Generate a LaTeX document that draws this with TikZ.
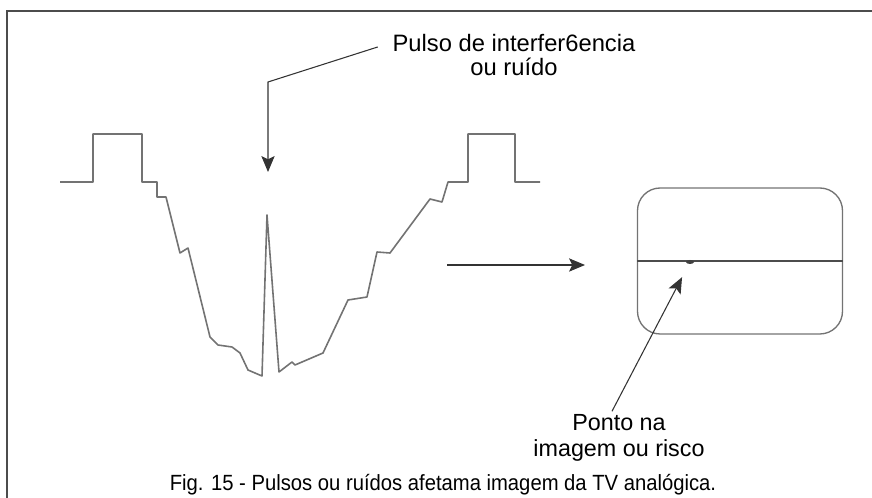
\documentclass[tikz,border=0pt]{standalone}
\usepackage{fontspec}
\setmainfont{Liberation Sans}
\newfontfamily\narrowsf[FakeStretch=0.92]{Liberation Sans}
\usetikzlibrary{arrows.meta,shapes.geometric}

\begin{document}
\begin{tikzpicture}[x=0.75pt,y=-0.75pt,
  sigline/.style={draw=black!55, line width=1.2pt, line join=round},
  arrowline/.style={draw=black!80, line width=0.8pt, -{Stealth[length=12pt,width=10pt,inset=2.5pt]}},
  framing/.style={draw=black!70, line width=1.5pt},
  textlbl/.style={align=center, inner sep=2pt}]
\useasboundingbox (0,0) rectangle (872,498);
\path[framing] (7,498) -- (7,11) -- (872,11);

% sinal de video com o pulso de interferencia
\path[sigline] (60,182) -- (93,182) -- (93,134) -- (142,134) -- (142,182) -- (157,182) -- (157,197) -- (166,197)
  -- (180,253) -- (188,248) -- (210,337) -- (218,345) -- (232,347) -- (240,353) -- (248,370) -- (262,376)
  -- (267,215) -- (279,372) -- (292,362) -- (295,365) -- (323,353) -- (348,300) -- (367,297) -- (377,252)
  -- (390,253) -- (430,199) -- (442,202) -- (448,182) -- (468,182) -- (468,134) -- (515,134) -- (515,182) -- (540,182);

\node[textlbl, font=\fontsize{17.8}{17.5}\selectfont] (pulsolbl) at (514,55) {Pulso de interfer6encia\\ou ruído};
\coordinate (bend) at (268,82);
\coordinate (hit) at (268,172);
\path[arrowline] ([shift={(-12,-8)}]pulsolbl.west) -- (bend) -- (hit);

\coordinate (feedtail) at (447,265);
\coordinate (feedhead) at (585,265);
\path[arrowline] (feedtail) -- (feedhead);

% tela da TV
\node[draw=black!55, line width=1pt, rounded corners=17pt, minimum width=153.75pt, minimum height=109.5pt] (screen) at (740,261) {};
\path[draw=black!70, line width=1pt] (screen.west) -- (screen.east);
\node[fill=black!75, ellipse, minimum width=6pt, minimum height=3pt, inner sep=0pt] (blip) at (690,262) {};

\node[textlbl, font=\fontsize{17.5}{20}\selectfont] (pontolbl) at (619,438) {Ponto na\\imagem ou risco};
\path[arrowline, shorten >=11pt] ([shift={(-7,0)}]pontolbl.north) -- (blip);

\node[font=\narrowsf\fontsize{16.5}{18}\selectfont] (caption) at (443,485) {Fig. 15 - Pulsos ou ruídos afetama imagem da TV analógica.};
\end{tikzpicture}
\end{document}
